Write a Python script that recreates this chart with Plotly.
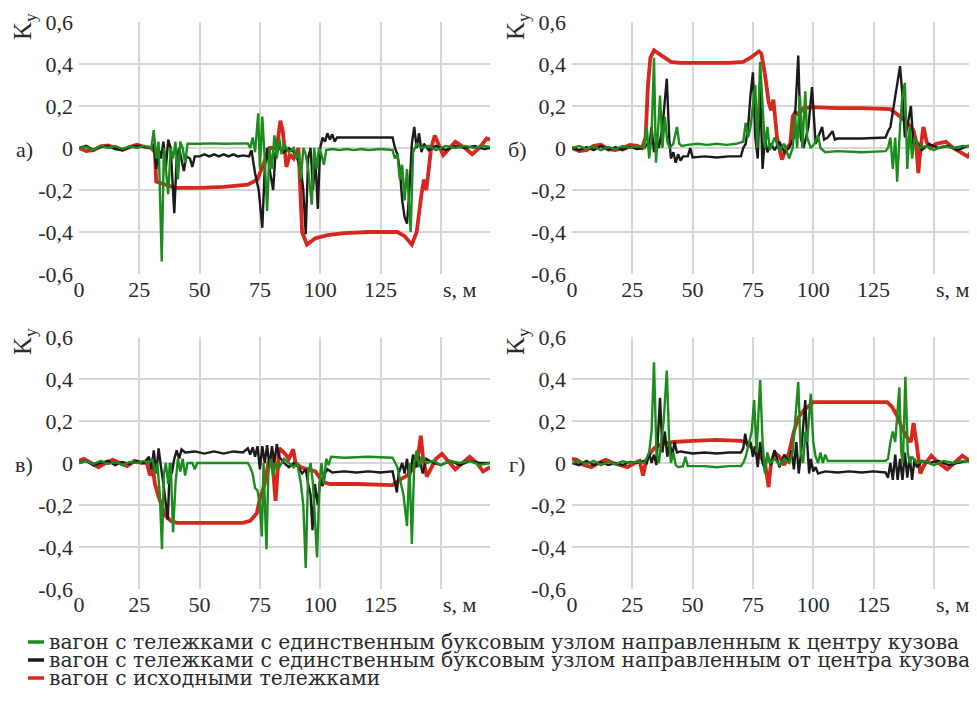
import plotly.graph_objects as go

# ---------------- data: [s, Ky] points ----------------
# panel а)
a_red = [[0,0],[3,-0.015],[6,-0.01],[9,0.008],[12,0.012],[15,0],[18,-0.01],[21,0.004],[24,0.015],[27,0.006],[30,0],
         [31.5,-0.02],[32,-0.16],[36,-0.175],[40,-0.19],[50,-0.19],[60,-0.185],[70,-0.175],[74,-0.15],[77,-0.06],[79,0.0],
         [82,0.0],[83.5,0.13],[84.5,0.08],[86,-0.09],[87.5,-0.03],[89,-0.05],[91,0.0],[92.5,-0.4],[94.5,-0.46],[98,-0.43],
         [103,-0.415],[110,-0.405],[120,-0.4],[132,-0.4],[135,-0.42],[138,-0.46],[140,-0.4],[141,-0.3],[142,-0.22],[143,-0.15],
         [144,-0.2],[145,-0.1],[146,0.0],[147.5,0.06],[151,-0.035],[156,0.03],[160,0.0],[163,-0.03],[166,0.0],[169,0.045],[170.4,0.04]]
a_black = [[0,0],[3,0.01],[6,-0.01],[9,0.005],[12,0.01],[15,-0.005],[18,-0.01],[21,0.005],[24,0.01],[27,0.005],[30,0],
           [31,0.02],[32,-0.1],[33,0.0],[34,-0.05],[35,0.03],[36,-0.1],[37,0.04],[38,0.0],[39.5,-0.31],[40.5,-0.05],[41.5,0.0],
           [42.5,-0.05],[43.5,-0.11],[44.5,-0.04],[46,-0.05],[47,-0.09],[48,-0.04],[50,-0.04],[52,-0.03],[54,-0.04],[56,-0.03],
           [58,-0.04],[60,-0.03],[62,-0.04],[64,-0.03],[66,-0.04],[68,-0.035],[70.5,-0.04],[71.5,-0.01],[73,-0.12],[74.5,-0.2],
           [76,-0.38],[77,-0.1],[78,0.0],[79,-0.1],[80.5,-0.2],[81.5,-0.02],[83,0.0],[85,-0.02],[87,0.0],[89,-0.02],[90.5,-0.05],
           [92,-0.1],[93,-0.2],[94,-0.41],[95,-0.05],[96,0.0],[97,-0.2],[98,-0.05],[99,-0.29],[100,0.0],[101,0.05],[102,0.03],
           [103,0.07],[104,0.04],[105,0.065],[106,0.03],[107,0.05],[110,0.05],[120,0.05],[130,0.05],[131,0.0],[132,-0.03],
           [133,-0.1],[134,-0.25],[135,-0.33],[136,-0.36],[137,-0.2],[138,0.02],[139,0.1],[140,0.0],[141,0.07],[142,-0.02],
           [143,0.02],[145,-0.01],[148,0.01],[152,-0.01],[156,0.01],[160,0.0],[164,0.01],[168,-0.005],[170.4,0.0]]
a_green = [[0,0],[3,0.005],[6,-0.01],[9,0.01],[12,0.0],[15,0.01],[18,-0.005],[21,0.008],[24,0.0],[27,0.01],[30,0.0],
           [31,0.085],[32,-0.05],[33,0.03],[34.3,-0.54],[35.2,0.0],[36,-0.1],[37,-0.22],[38,0.0],[39,-0.05],[40,0.03],[41,-0.15],
           [42,0.03],[43,0.0],[44,-0.07],[45,0.02],[50,0.02],[55,0.022],[60,0.02],[65,0.02],[70,0.022],[71,0.0],[72,0.05],
           [73,-0.02],[74.3,0.165],[75,-0.1],[76,0.15],[77,-0.05],[78,-0.3],[79,0.0],[80,-0.1],[81,0.06],[82,-0.05],[83,0.05],
           [84,-0.03],[85,0.02],[87,-0.02],[89,0.0],[90,-0.05],[91,-0.02],[92,-0.15],[93,0.0],[94,-0.03],[95,-0.1],[96.5,-0.27],
           [97.5,0.0],[98.5,-0.1],[99.5,0.0],[100.5,-0.03],[101.5,-0.08],[102.5,-0.01],[105,-0.005],[108,-0.01],[111,-0.005],
           [114,-0.01],[117,-0.005],[120,-0.01],[125,-0.005],[130,-0.01],[131,-0.05],[132,-0.03],[133,-0.15],[134,-0.08],
           [135,-0.25],[136,-0.1],[137.5,-0.4],[138.5,-0.02],[140,0.02],[142,0.0],[145,0.01],[148,-0.01],[152,0.01],[156,0.0],
           [160,0.01],[164,0.0],[168,0.01],[170.4,0.005]]

# panel б)
b_red = [[0,0],[3,-0.015],[6,-0.01],[9,0.01],[12,0.015],[15,-0.005],[18,-0.01],[21,0.0],[24,0.015],[27,0.01],[29,0.0],
         [30.5,0.05],[31.5,0.3],[32.5,0.43],[34,0.465],[36,0.45],[38,0.43],[41,0.41],[45,0.405],[55,0.405],[65,0.405],
         [71,0.41],[74,0.43],[77.5,0.46],[78.5,0.45],[80,0.35],[81.5,0.22],[82.5,0.18],[83.5,0.23],[85,0.05],[87,-0.055],
         [89,0.0],[90.5,0.02],[91.5,0.15],[92.5,0.17],[94,0.16],[96,0.19],[100,0.195],[110,0.19],[120,0.19],[128,0.185],
         [132,0.185],[136,0.15],[139,0.12],[141.5,0.085],[142.5,0.04],[143.6,-0.12],[144.5,0.0],[145.7,0.1],[147,0.03],
         [148.5,0.0],[151,0.02],[155,0.03],[158,0.0],[161,-0.02],[164,-0.04],[166,-0.01],[167.9,0.0]]
b_black = [[0,0],[3,-0.01],[6,0.005],[9,-0.01],[12,0.01],[15,-0.01],[18,0.005],[21,-0.01],[24,0.005],[27,-0.005],[30,0.0],
           [31,0.02],[32,0.0],[33,0.1],[34,-0.02],[35,0.05],[36,0.0],[37.5,0.1],[39.3,0.33],[40.3,0.05],[41,-0.05],[42,-0.02],
           [43,-0.07],[44,-0.03],[45,-0.06],[46,-0.04],[48,-0.04],[49,0.0],[50,-0.045],[55,-0.04],[60,-0.045],[65,-0.04],
           [70,-0.04],[71,0.0],[72,0.02],[73,0.1],[74,0.25],[75,0.36],[76,0.05],[77,-0.05],[78,0.28],[79,-0.1],[80,0.05],
           [81,-0.02],[82.5,0.02],[84,-0.01],[86,0.03],[88,-0.02],[90,0.0],[92,0.05],[93.8,0.44],[94.8,0.05],[96,0.0],[98,0.1],
           [99.5,0.29],[100.5,0.1],[101,0.02],[102,0.05],[103.7,0.1],[104.5,0.04],[106,0.05],[108,0.08],[109,0.04],[110,0.045],
           [120,0.045],[130,0.05],[131,0.08],[132,0.1],[134,0.25],[136,0.39],[137,0.25],[138,0.05],[139,0.1],[140.5,0.2],
           [141.5,0.02],[143,0.03],[145,-0.01],[148,0.02],[152,0.0],[156,0.01],[160,-0.01],[164,0.01],[167.9,0.005]]
b_green = [[0,0],[3,0.01],[6,-0.005],[9,0.008],[12,-0.01],[15,0.005],[18,-0.005],[21,0.01],[24,0.0],[27,0.01],[30,0.0],
           [31,0.1],[32,-0.05],[33,0.06],[34,0.43],[34.8,-0.07],[35.5,0.05],[36.5,0.25],[37.5,0.0],[38.5,0.15],[39.5,0.03],
           [40.5,0.0],[42,0.02],[43.5,0.1],[44.5,0.02],[45.5,0.01],[48,0.015],[52,0.02],[56,0.015],[60,0.02],[64,0.015],
           [68,0.02],[71,0.03],[72,0.12],[73,0.05],[74,0.1],[76,0.3],[76.8,0.0],[78,0.41],[79,0.2],[80,0.0],[81,0.1],[82,-0.01],
           [84,0.05],[86,-0.01],[88,0.02],[90,-0.05],[91.5,0.0],[92.5,0.16],[93.3,0.0],[94.5,0.25],[95.5,0.0],[96.7,0.27],
           [97.5,0.05],[99,0.0],[100.5,0.02],[102,0.06],[103,0.0],[105,-0.02],[110,-0.015],[120,-0.02],[130,-0.015],[131,0.0],
           [132,0.05],[133,-0.1],[134,0.05],[134.8,-0.16],[136,0.1],[137,0.25],[138,0.31],[139,-0.1],[140,0.1],[141,-0.05],
           [142,0.05],[144,0.0],[147,0.01],[150,-0.01],[154,0.01],[158,0.0],[162,0.01],[167.9,0.005]]

# panel в)
c_red = [[0,0.01],[2,0.02],[5,0.0],[8,-0.02],[11,0.0],[14,0.015],[17,0.0],[20,-0.015],[23,0.01],[26,0.0],[28,0.005],
         [29.5,-0.06],[30.5,-0.02],[31.5,-0.1],[33,-0.16],[35.7,-0.25],[38,-0.275],[40.5,-0.285],[50,-0.285],[60,-0.285],
         [68,-0.285],[71,-0.275],[73.7,-0.24],[75,-0.17],[77,-0.1],[78.5,0.0],[80,0.03],[81.5,-0.18],[83,0.07],[85,0.05],
         [87,0.02],[88.8,0.065],[89.8,0.0],[92,-0.02],[95,-0.03],[98,-0.04],[101,-0.09],[104,-0.1],[115,-0.1],[130,-0.105],
         [133,-0.08],[136,-0.06],[139,-0.02],[140.5,0.03],[141.7,0.13],[142.7,0.02],[144.2,-0.065],[146,-0.02],[148,0.02],
         [150.5,0.043],[153,0.01],[156,-0.03],[159,0.0],[162,0.03],[165,0.0],[167.5,-0.04],[170.4,-0.02]]
c_black = [[0,0.0],[3,0.01],[6,-0.01],[9,0.0],[12,0.01],[15,-0.01],[18,0.005],[21,-0.005],[24,0.01],[27,0.0],[29,0.03],
           [30,-0.03],[31,0.06],[32,-0.05],[33,0.07],[34,-0.02],[35,-0.1],[36.8,-0.27],[37.7,0.0],[38.5,-0.05],[39.5,0.02],
           [40.5,0.06],[41.5,0.02],[42.5,0.065],[44,0.05],[48,0.055],[52,0.045],[56,0.055],[60,0.045],[64,0.055],[68,0.05],
           [70,0.07],[71,0.04],[72,0.075],[73,0.03],[74,0.08],[75,-0.03],[76,0.08],[77,0.0],[78,0.085],[79,-0.02],[80,0.08],
           [81,0.0],[82,0.09],[83,0.03],[85,0.0],[87,-0.02],[89,0.0],[91,-0.02],[92.5,-0.05],[94,-0.03],[95,-0.1],[96,-0.15],
           [96.8,-0.32],[97.8,-0.1],[99,-0.2],[100,-0.08],[101,-0.11],[102,-0.05],[103,-0.03],[105,-0.045],[110,-0.04],
           [115,-0.045],[120,-0.04],[125,-0.045],[130,-0.04],[131,-0.1],[131.8,-0.14],[132.5,-0.05],[134,0.0],[135,-0.05],
           [136,0.02],[137,-0.08],[138.5,0.04],[140,-0.02],[141,0.03],[142.5,-0.05],[144,0.02],[147,0.0],[150,-0.01],
           [154,0.01],[158,-0.01],[162,0.01],[166,0.0],[170.4,0.0]]
c_green = [[0,0.0],[3,0.01],[6,-0.005],[9,0.01],[12,-0.005],[15,0.005],[18,-0.01],[21,0.005],[24,0.0],[27,0.01],[29,0.0],
           [30.5,0.02],[31.5,-0.05],[32.5,0.0],[33.5,-0.15],[34.4,-0.41],[35.2,-0.05],[36,0.0],[37,-0.1],[38,0.0],[39,-0.33],
           [40,-0.1],[41,0.02],[42,-0.04],[43,0.02],[44,-0.06],[45,0.0],[47,0.0],[48,-0.03],[49,0.0],[55,0.0],[60,0.0],[65,0.0],
           [70,0.0],[71,-0.02],[72,-0.05],[73,-0.12],[74,-0.13],[75,-0.2],[75.8,-0.35],[76.5,0.0],[77.7,-0.41],[78.5,-0.05],
           [79.5,0.02],[80.5,-0.06],[81.5,0.0],[83,-0.02],[85,0.02],[87,0.0],[89,-0.02],[90.5,0.0],[92,-0.1],[93,-0.2],
           [94,-0.5],[95,-0.05],[96,0.0],[97,-0.1],[98.7,-0.45],[99.7,-0.1],[100.5,0.0],[101.5,-0.1],[102.5,0.02],[103.5,-0.01],
           [104.5,0.03],[110,0.025],[120,0.03],[130,0.025],[131,0.0],[132,-0.02],[133.5,-0.1],[134.5,-0.15],[136,-0.3],
           [137,0.0],[138,-0.385],[139,0.0],[140,0.06],[141,-0.02],[142,0.03],[144,0.0],[147,0.01],[150,-0.01],[154,0.01],
           [158,0.0],[162,0.01],[166,-0.01],[170.4,0.0]]

# panel г)
d_red = [[0,0.02],[2,0.015],[5,-0.01],[8,-0.02],[11,0.0],[14,0.015],[17,0.0],[20,-0.01],[23,-0.02],[26,0.0],[28,0.01],
         [29.5,-0.06],[30.5,0.0],[32,0.04],[34,0.07],[37,0.09],[42,0.1],[50,0.105],[60,0.11],[70,0.105],[72,0.1],[74,0.08],
         [76,0.05],[78,0.03],[80,0.0],[81.5,-0.115],[82.5,0.0],[84,0.05],[86,0.03],[88,-0.01],[90,0.05],[92,0.15],[94,0.22],
         [96,0.25],[98,0.27],[100,0.29],[110,0.29],[120,0.29],[130.6,0.29],[132.5,0.27],[134.8,0.225],[137,0.16],[139,0.12],
         [140.5,0.1],[141.6,0.19],[143,0.08],[144.4,-0.05],[146,-0.01],[149,0.035],[152,0.0],[155.6,-0.03],[158.5,0.0],
         [161.8,0.035],[165,0.01],[167.9,-0.01]]
d_black = [[0,0.0],[3,-0.01],[6,0.01],[9,-0.01],[12,0.005],[15,-0.01],[18,0.0],[21,-0.01],[24,0.005],[27,0.0],[30,0.01],
           [31,0.0],[32,0.05],[33,0.0],[34,0.04],[35,-0.01],[36.5,0.31],[37.5,0.05],[38.5,0.15],[39.5,0.03],[40.5,0.1],
           [41.5,0.03],[42.5,0.1],[43.5,0.05],[45,0.055],[50,0.045],[55,0.05],[60,0.045],[65,0.05],[70,0.05],[71,0.07],
           [71.8,0.14],[72.7,0.08],[74,0.1],[75,0.03],[76,0.08],[77,-0.02],[78,0.1],[79,0.0],[80,-0.03],[81,0.04],[82.5,-0.01],
           [84,0.06],[86,-0.02],[88,0.04],[90,0.0],[91,0.06],[92,-0.03],[93,0.1],[94,-0.05],[95,0.05],[96.7,0.3],[97.5,0.1],
           [98.3,-0.05],[99,0.02],[100,-0.04],[101,-0.02],[102,-0.05],[105,-0.04],[110,-0.045],[115,-0.04],[120,-0.045],
           [125,-0.04],[130,-0.045],[131,-0.07],[132,0.0],[133,-0.08],[134,0.04],[135,-0.08],[136,0.02],[137,-0.08],[138,0.05],
           [139,-0.07],[140,0.03],[141,-0.08],[142,0.02],[143,-0.02],[145,0.01],[148,0.0],[152,0.01],[156,-0.01],[160,0.0],
           [164,0.01],[167.9,0.0]]
d_green = [[0,0.0],[3,0.01],[6,-0.005],[9,0.01],[12,-0.01],[15,0.005],[18,-0.005],[21,0.008],[24,0.0],[27,0.005],[30,0.0],
           [31,0.03],[32,0.05],[33,0.15],[34,0.48],[35,0.05],[36,0.0],[37,0.1],[38,0.2],[39.3,0.44],[40.3,0.1],[41,0.0],
           [42,0.05],[43,-0.01],[44,-0.02],[46,-0.015],[47,0.03],[48,-0.015],[55,-0.015],[60,-0.02],[65,-0.015],[70,-0.015],
           [71,0.0],[72,0.03],[73.5,0.1],[74.5,0.15],[75.5,0.3],[76.5,0.05],[78,0.395],[79,0.1],[80,-0.05],[81,0.05],[82,0.0],
           [84,0.02],[86,-0.01],[88,0.02],[90,0.0],[91.5,0.05],[92.5,0.2],[93.8,0.385],[94.8,0.05],[95.8,0.0],[96.8,0.15],
           [97.5,0.1],[99,0.33],[100,0.1],[101,0.03],[102,0.0],[103,0.05],[104,0.0],[105,0.04],[106,0.01],[110,0.01],[120,0.01],
           [130,0.01],[131,0.02],[132,0.1],[133,0.15],[134,0.1],[135.7,0.36],[136.5,0.05],[137.2,0.0],[138.2,0.41],[139.2,0.05],
           [140,0.0],[141,0.03],[143,0.0],[146,0.01],[150,-0.01],[154,0.01],[158,0.0],[162,0.01],[167.9,0.0]]

x_ticks = [0, 25, 50, 75, 100, 125, 150]
x_ticktext = ["0", "25", "50", "75", "100", "125", " "]
y_ticks = [-0.6, -0.4, -0.2, 0, 0.2, 0.4, 0.6]
y_ticktext = ["-0,6", "-0,4", "-0,2", "0", "0,2", "0,4", "0,6"]
series_names = [
    "вагон с тележками с единственным буксовым узлом направленным к центру кузова",
    "вагон с тележками с единственным буксовым узлом направленным от центра кузова",
    "вагон с исходными тележками",
]
panel_labels = ["а)", "б)", "в)", "г)"]
x_unit = "s, м"

# ---------------- styling ----------------
W, H = 977, 713
OFF = 8  # page body margin in the browser
FONT = "'Liberation Serif', 'Times New Roman', Tinos, serif"
LEGFONT = "'DejaVu Serif', 'Liberation Serif', serif"
TXT = "#2a2a2a"
GREEN, BLACK, RED = "#1c8c1c", "#1e1a1a", "#d6281e"
GRID = "#d6d6d6"
TICKSIZE = 22

def px_x(p):
    return (p - OFF) / W

def px_y(p):
    return 1 - (p - OFF) / H

# (data for the panel, plot left/right px on screen, top/bottom px, x max)
panels = [
    ((a_green, a_black, a_red), (79, 490), (22, 274), 170.4),
    ((b_green, b_black, b_red), (572, 977), (22, 274), 167.9),
    ((c_green, c_black, c_red), (79, 490), (337, 589), 170.4),
    ((d_green, d_black, d_red), (572, 977), (337, 589), 167.9),
]

fig = go.Figure()
layout = dict(
    width=W, height=H, margin=dict(l=0, r=0, t=0, b=0, autoexpand=False),
    paper_bgcolor="white", plot_bgcolor="white", showlegend=False,
    font=dict(family=FONT, size=TICKSIZE, color=TXT),
)
annotations = []
shapes = []

for i, (series, (xl, xr), (yt, yb), xmax) in enumerate(panels):
    n = "" if i == 0 else str(i + 1)
    xa, ya = "x" + n, "y" + n
    green, black, red = series
    for pts, color, width, name in ((red, RED, 3.8, series_names[2]),
                                    (black, BLACK, 2.4, series_names[1]),
                                    (green, GREEN, 2.4, series_names[0])):
        fig.add_trace(go.Scatter(
            x=[p[0] for p in pts], y=[p[1] for p in pts], mode="lines",
            line=dict(color=color, width=width), name=name,
            xaxis=xa, yaxis=ya, hoverinfo="skip"))
    layout["xaxis" + n] = dict(
        domain=[px_x(xl), px_x(xr)], range=[0, xmax], anchor=ya, automargin=False,
        tickvals=x_ticks, ticktext=x_ticktext, showgrid=True, gridcolor=GRID,
        gridwidth=1.5, zeroline=False, showline=False, ticks="",
        tickfont=dict(family=FONT, size=TICKSIZE, color=TXT))
    layout["yaxis" + n] = dict(
        domain=[px_y(yb), px_y(yt)], range=[-0.6, 0.6], anchor=xa, automargin=False,
        tickvals=y_ticks, ticktext=y_ticktext, showgrid=True, gridcolor=GRID,
        gridwidth=1.5, zeroline=False, showline=False, ticks="", ticklabelstandoff=5,
        tickfont=dict(family=FONT, size=TICKSIZE, color=TXT))
    # unit label in place of the 150 tick
    annotations.append(dict(xref=xa, yref="paper", x=158, y=px_y(yb + 15),
                            text=x_unit, showarrow=False, xanchor="center",
                            yanchor="middle", font=dict(family=FONT, size=TICKSIZE, color=TXT)))
    # Ky label
    annotations.append(dict(xref="paper", yref="paper", x=px_x(xl - 54), y=px_y(yt + 5),
                            text="K<sub>y</sub>", showarrow=False, textangle=-90,
                            xanchor="center", yanchor="middle",
                            font=dict(family=FONT, size=25, color=TXT)))
    # panel letter at the zero line
    ymid = (yt + yb) / 2
    annotations.append(dict(xref="paper", yref="paper", x=px_x(xl - 55), y=px_y(ymid + 1),
                            text=panel_labels[i], showarrow=False,
                            xanchor="center", yanchor="middle",
                            font=dict(family=FONT, size=TICKSIZE, color=TXT)))

# manual legend
for k, (name, color) in enumerate(zip(series_names, (GREEN, BLACK, RED))):
    yy = 642 + 18 * k
    shapes.append(dict(type="line", xref="paper", yref="paper",
                       x0=px_x(28), x1=px_x(44), y0=px_y(yy), y1=px_y(yy),
                       line=dict(color=color, width=3.5)))
    annotations.append(dict(xref="paper", yref="paper", x=px_x(47), y=px_y(yy),
                            text=name, showarrow=False, xanchor="left", yanchor="middle",
                            font=dict(family=LEGFONT, size=20.3, color=TXT)))

layout["annotations"] = annotations
layout["shapes"] = shapes
fig.update_layout(**layout)
fig.write_html("out.html")
